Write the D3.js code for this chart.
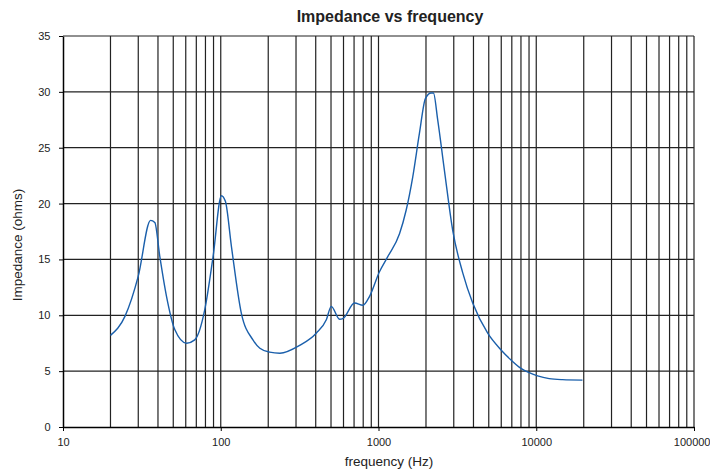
<!DOCTYPE html>
<html><head><meta charset="utf-8">
<script src="https://cdn.jsdelivr.net/npm/d3@7"></script>
<style>body{margin:0;background:#fff}svg{display:block;font-family:"Liberation Sans",Arial,sans-serif}</style>
</head><body>
<svg id="c" width="710" height="471"></svg>
<script>
const freq = [20, 24.7, 30, 35.9, 38.2, 41.1, 45.3, 51.2, 60.7, 68.4, 79.2, 89.4, 101, 107, 117, 135, 160, 177, 204, 237, 316, 403, 467, 502, 566, 594, 705, 796, 878, 1014, 1145, 1359, 1497, 1649, 1818, 1983, 2156, 2230, 2373, 2616, 2954, 3420, 3955, 4923, 5983, 6920, 8002, 9030, 10200, 12080, 14660, 19630];
const impedance = [8.2, 9.9, 13.5, 18.5, 18.3, 15.25, 11.7, 8.7, 7.5, 7.8, 10.5, 15.25, 20.7, 20.2, 16.1, 10.2, 7.8, 7.05, 6.7, 6.6, 7.3, 8.4, 9.6, 10.8, 9.65, 9.7, 11.1, 10.9, 11.7, 13.9, 15.25, 17.3, 19.4, 22.4, 26.3, 29.4, 29.9, 29.9, 27.5, 23.0, 17.6, 13.8, 11.1, 8.4, 6.9, 6.0, 5.25, 4.86, 4.57, 4.33, 4.24, 4.2];
const xTickLabels = [10, 100, 1000, 10000, 100000];
const yTickLabels = [0, 5, 10, 15, 20, 25, 30, 35];

const svg = d3.select("#c");
const m = {l: 63, r: 694, t: 36, b: 427};
const x = d3.scaleLog().domain([10, 100000]).range([m.l, m.r]);
const y = d3.scaleLinear().domain([0, 35]).range([m.b, m.t]);

const vgrid = [];
for (let d = 10; d < 100000; d *= 10) for (let k = 2; k <= 10; k++) vgrid.push(d * k);
svg.append("g").selectAll("line").data(vgrid).join("line")
  .attr("x1", d => x(d)).attr("x2", d => x(d)).attr("y1", m.t).attr("y2", m.b)
  .attr("stroke", "#222").attr("stroke-width", 1.2);
svg.append("g").selectAll("line").data(yTickLabels.slice(1)).join("line")
  .attr("x1", m.l).attr("x2", m.r).attr("y1", d => y(d)).attr("y2", d => y(d))
  .attr("stroke", "#222").attr("stroke-width", 1.2);

const gx = svg.append("g").attr("transform", `translate(0,${m.b})`)
  .call(d3.axisBottom(x).tickValues(xTickLabels).tickFormat(d3.format("d")).tickSize(4).tickSizeOuter(0));
const gy = svg.append("g").attr("transform", `translate(${m.l},0)`)
  .call(d3.axisLeft(y).tickValues(yTickLabels).tickSize(4).tickSizeOuter(0));
[gx, gy].forEach(g => {
  g.select(".domain").attr("stroke", "#000").attr("stroke-width", 1.5);
  g.selectAll(".tick line").attr("stroke", "#000");
  g.selectAll("text").attr("font-family", "Liberation Sans, Arial, sans-serif").attr("font-size", 11).attr("fill", "#222");
});
gx.selectAll("text").attr("dy", "1.1em");
gx.selectAll(".tick").filter(d => d === 100000).select("text").attr("text-anchor", "end").attr("x", 16);
gy.selectAll("text").attr("dx", "-0.5em");

const line = d3.line().x((d, i) => x(freq[i])).y(d => y(d)).curve(d3.curveMonotoneX);
svg.append("path").datum(impedance).attr("d", line)
  .attr("fill", "none").attr("stroke", "#1a5fab").attr("stroke-width", 1.4);

svg.append("text").attr("x", 390).attr("y", 22).attr("text-anchor", "middle")
  .attr("font-size", 16).attr("font-weight", "bold").attr("fill", "#222").text("Impedance vs frequency");
svg.append("text").attr("x", 389).attr("y", 466).attr("text-anchor", "middle")
  .attr("font-size", 13.5).attr("fill", "#222").text("frequency (Hz)");
svg.append("text").attr("transform", "translate(22,245) rotate(-90)").attr("text-anchor", "middle")
  .attr("font-size", 13.5).attr("fill", "#222").text("Impedance (ohms)");
</script>
</body></html>
